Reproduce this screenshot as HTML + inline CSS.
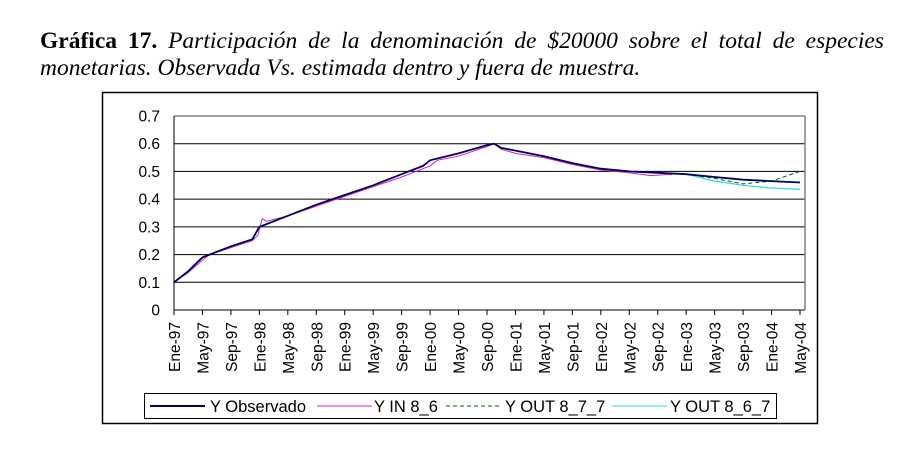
<!DOCTYPE html>
<html><head><meta charset="utf-8"><style>
body{margin:0;background:#fff;width:924px;height:452px;overflow:hidden;position:relative}
svg{position:absolute;left:0;top:0}
#t{position:absolute;left:40px;top:28px;width:844px;font-family:"Liberation Serif",serif;font-size:23.5px;line-height:27px}
#t .l1{white-space:nowrap;display:flex;justify-content:space-between}
</style></head><body>
<svg id="s" width="924" height="452" xmlns="http://www.w3.org/2000/svg" font-family="Liberation Sans, Arial, sans-serif">
<rect x="102.5" y="92.5" width="715" height="331" fill="none" stroke="#000" stroke-width="1.5"/>
<g id="g"></g>
<rect x="144.5" y="393.5" width="632" height="25" fill="none" stroke="#000"/>
<line x1="150" y1="406" x2="205" y2="406" stroke="#00005e" stroke-width="2"/>
<text x="210" y="412" font-size="16.5">Y Observado</text>
<line x1="317" y1="406" x2="372" y2="406" stroke="#d020d0" stroke-width="1"/>
<text x="374" y="412" font-size="16.5">Y IN 8_6</text>
<line x1="446" y1="406" x2="501" y2="406" stroke="#006000" stroke-dasharray="4,3"/>
<text x="505" y="412" font-size="16.5">Y OUT 8_7_7</text>
<line x1="612" y1="406" x2="667" y2="406" stroke="#30d8d8"/>
<text x="670" y="412" font-size="16.5">Y OUT 8_6_7</text>
</svg>
<div id="t"><span class="l1"><b>Gráfica</b><b>17.</b><i>Participación</i><i>de</i><i>la</i><i>denominación</i><i>de</i><i>$20000</i><i>sobre</i><i>el</i><i>total</i><i>de</i><i>especies</i></span><i>monetarias. Observada Vs. estimada dentro y fuera de muestra.</i></div>
<script>
var g=document.getElementById('g'),h='';
var L=174,R=805,T=116,B=310;
function Y(v){return B-v/0.7*(B-T)}
function X(m){return L+m*(626/88)}
for(var i=0;i<=7;i++){var y=Y(i/10);h+='<line x1="'+L+'" y1="'+y+'" x2="'+R+'" y2="'+y+'" stroke="'+(i==7?'#808080':'#000')+'" stroke-width="'+(i==7?1.5:1)+'"/>';
h+='<text x="160" y="'+(y+5.5)+'" font-size="15.5" text-anchor="end">'+(i==0?'0':(i/10).toFixed(1))+'</text>';}
h+='<line x1="'+L+'" y1="'+T+'" x2="'+L+'" y2="'+B+'" stroke="#000"/>';
h+='<line x1="'+R+'" y1="'+T+'" x2="'+R+'" y2="'+B+'" stroke="#808080" stroke-width="1.5"/>';
var mn=['Ene','May','Sep'];
for(var k=0;k<=22;k++){var x=X(k*4);h+='<line x1="'+x+'" y1="'+B+'" x2="'+x+'" y2="'+(B+5)+'" stroke="#000"/>';
var yr=97+Math.floor(k/3);yr=(yr%100<10?'0':'')+(yr%100);
h+='<text transform="translate('+(x+6)+',322) rotate(-90)" font-size="15.5" text-anchor="end">'+mn[k%3]+'-'+yr+'</text>';}
function path(pts,st){var d='';pts.forEach(function(p,i){d+=(i?'L':'M')+X(p[0]).toFixed(1)+','+Y(p[1]).toFixed(1)});h+='<path d="'+d+'" fill="none" '+st+'/>';}
var obs=[[0,.10],[2,.14],[4,.19],[5,.20],[8,.23],[11,.255],[12,.30],[16,.34],[20,.38],[24,.415],[28,.45],[32,.49],[35,.52],[36,.54],[40,.565],[44,.595],[45,.60],[46,.585],[48,.575],[52,.555],[56,.53],[60,.51],[64,.50],[68,.495],[72,.49],[76,.48],[80,.47],[84,.465],[88,.46]];
var inn=[[0,.10],[2,.135],[4,.18],[5,.20],[8,.225],[11,.25],[11.8,.27],[12.4,.33],[13,.32],[16,.34],[20,.375],[24,.41],[28,.445],[32,.48],[35,.51],[36,.52],[37,.54],[40,.555],[44,.59],[45,.60],[46,.58],[48,.565],[52,.55],[56,.525],[60,.505],[64,.495],[67,.485],[70,.49]];
var o1=[[72,.49],[76,.475],[80,.455],[84,.465],[88,.50]];
var o2=[[72,.49],[76,.465],[80,.45],[84,.44],[88,.435]];
path(inn,'stroke="#d020d0" stroke-width="1"');
path(o1,'stroke="#006000" stroke-dasharray="4,3"');
path(o2,'stroke="#30d8d8" stroke-width="1.2"');
path(obs,'stroke="#00005e" stroke-width="1.8"');
g.innerHTML=h;
</script>
</body></html>
